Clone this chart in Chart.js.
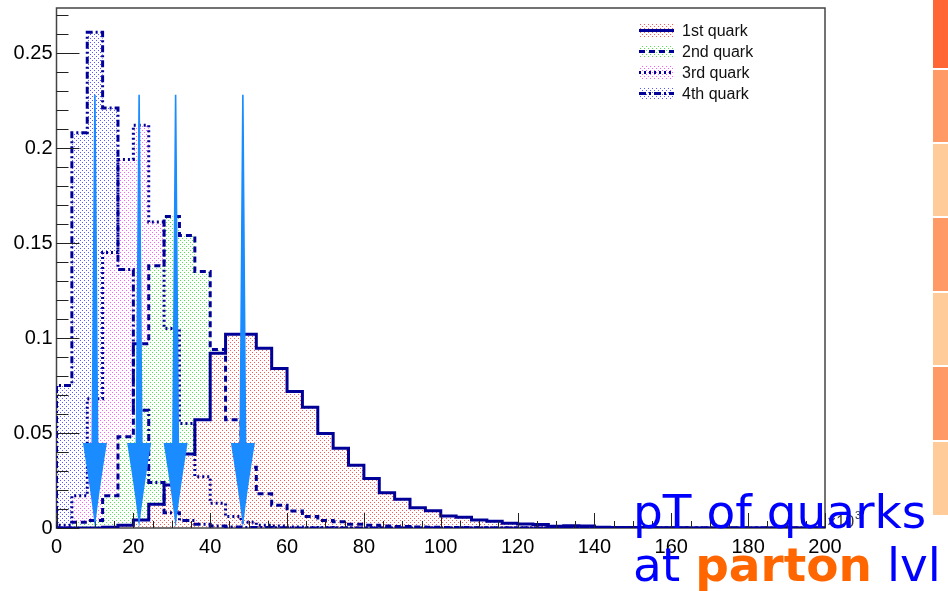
<!DOCTYPE html>
<html>
<head>
<meta charset="utf-8">
<script src="https://cdn.jsdelivr.net/npm/chart.js@4.4.1/dist/chart.umd.min.js"></script>
<style>
  html, body { margin: 0; padding: 0; background: #fff; overflow: hidden; }
  #wrap { position: relative; width: 948px; height: 591px; overflow: hidden; }
  #c { position: absolute; left: 0; top: 0; }
  .strip { position: absolute; left: 933px; width: 15px; }
  #note { position: absolute; left: 633px; top: 485px; font-family: "DejaVu Sans"; font-size: 47px;
          line-height: 53px; color: #0000ff; white-space: nowrap; }
  #note b { color: #ff6600; }
</style>
</head>
<body>
<div id="wrap">
  <canvas id="c" width="948" height="591"></canvas>
  <div class="strip" style="top:0;height:68px;background:#ff6633"></div>
  <div class="strip" style="top:70px;height:72px;background:#ff9966"></div>
  <div class="strip" style="top:144px;height:72px;background:#ffcc99"></div>
  <div class="strip" style="top:218px;height:73px;background:#ff9966"></div>
  <div class="strip" style="top:293px;height:72px;background:#ffcc99"></div>
  <div class="strip" style="top:367px;height:73px;background:#ff9966"></div>
  <div class="strip" style="top:442px;height:73px;background:#ffcc99"></div>
  <div id="note">pT of quarks<br>at <b>parton</b> lvl</div>
</div>
<script>
// histogram contents, 50 bins of width 4 (x10^3) from 0 to 200
var binWidth = 4;
var q1 = [0, 0, 0, 0.0004, 0.0015, 0.0042, 0.0125, 0.0226, 0.039, 0.057,
          0.092, 0.102, 0.102, 0.0946, 0.084, 0.0718, 0.0635, 0.0498, 0.042, 0.033,
          0.026, 0.0186, 0.0151, 0.0107, 0.0091, 0.0063, 0.0056, 0.0042, 0.0035, 0.0025,
          0.0021, 0.0018, 0.0009, 0.0012, 0.001, 0.0004, 0.0003, 0.0002, 0.0002, 0.0001,
          0.0001, 0, 0, 0, 0, 0, 0, 0, 0, 0];
var q2 = [0, 0.003, 0.004, 0.017, 0.048, 0.097, 0.138, 0.164, 0.154, 0.135,
          0.094, 0.057, 0.032, 0.018, 0.012, 0.009, 0.006, 0.004, 0.0033, 0.002,
          0.0015, 0.001, 0.0008, 0.0005, 0.0004, 0.0003, 0.0002, 0.0001, 0, 0,
          0, 0, 0, 0, 0, 0, 0, 0, 0, 0,
          0, 0, 0, 0, 0, 0, 0, 0, 0, 0];
var q3 = [0.0015, 0.017, 0.068, 0.145, 0.194, 0.212, 0.161, 0.105, 0.055, 0.027,
          0.013, 0.006, 0.003, 0.0015, 0.001, 0.0005, 0.0003, 0.0002, 0.0001, 0,
          0, 0, 0, 0, 0, 0, 0, 0, 0, 0,
          0, 0, 0, 0, 0, 0, 0, 0, 0, 0,
          0, 0, 0, 0, 0, 0, 0, 0, 0, 0];
var q4 = [0.075, 0.208, 0.261, 0.221, 0.136, 0.062, 0.024, 0.008, 0.004, 0.002,
          0.001, 0.0005, 0.0003, 0.0002, 0.0001, 0, 0, 0, 0, 0,
          0, 0, 0, 0, 0, 0, 0, 0, 0, 0,
          0, 0, 0, 0, 0, 0, 0, 0, 0, 0,
          0, 0, 0, 0, 0, 0, 0, 0, 0, 0];
var labels = ["1st quark", "2nd quark", "3rd quark", "4th quark"];
var xTicks = [0, 20, 40, 60, 80, 100, 120, 140, 160, 180, 200];
var yTicks = [0, 0.05, 0.1, 0.15, 0.2, 0.25];
var arrowX = [10, 21.5, 31, 48.5];   // arrow positions on x axis
var arrowTop = 0.228;

var navy = "#000099";
var canvas = document.getElementById("c");
var ctx = canvas.getContext("2d");

//dotted fill pattern like ROOT's
function dots(color) {
    var c = document.createElement("canvas");
    c.width = 4; c.height = 4;
    var g = c.getContext("2d");
    g.fillStyle = color;
    g.fillRect(0, 0, 1, 1);
    g.fillRect(2, 2, 1, 1);
    return ctx.createPattern(c, "repeat");
}

//bin contents -> step points
function histPoints(vals) {
    var pts = [{x: 0, y: 0}];
    for (var i = 0; i < vals.length; i++) pts.push({x: i * binWidth, y: vals[i]});
    pts.push({x: vals.length * binWidth, y: 0});
    return pts;
}

var series = [
    {vals: q1, dot: "#ff5a5a", dash: []},
    {vals: q2, dot: "#4ee84e", dash: [6, 4]},
    {vals: q3, dot: "#ff5cff", dash: [2, 3]},
    {vals: q4, dot: "#5a5aff", dash: [7, 3, 2, 3]}
];

var rootStyle = {
    id: "rootStyle",
    beforeDatasetsDraw: function(chart) {
        var g = chart.ctx, a = chart.chartArea;
        g.save();
        g.strokeStyle = "#444";
        g.lineWidth = 1.5;
        g.strokeRect(a.left, a.top, a.right - a.left, a.bottom - a.top);
        g.restore();
    },
    afterDatasetsDraw: function(chart) {
        var g = chart.ctx, a = chart.chartArea, sx = chart.scales.x, sy = chart.scales.y;
        g.save();
        //ticks inside the frame
        g.strokeStyle = "#222";
        g.lineWidth = 1;
        g.beginPath();
        for (var k = 0; k <= 40; k++) {
            var px = Math.round(sx.getPixelForValue(k * 5)) + 0.5;
            g.moveTo(px, a.bottom);
            g.lineTo(px, a.bottom - (k % 4 === 0 ? 15 : 7));
        }
        for (var j = 0; j <= 27; j++) {
            var py = Math.round(sy.getPixelForValue(j * 0.01)) + 0.5;
            g.moveTo(a.left, py);
            g.lineTo(a.left + (j % 5 === 0 ? 23 : 12), py);
        }
        g.stroke();

        //arrows
        g.fillStyle = "#1a8cff";
        arrowX.forEach(function(v) {
            var x = sx.getPixelForValue(v);
            var top = sy.getPixelForValue(arrowTop);
            var tip = sy.getPixelForValue(0);
            var headTop = tip - 85;
            g.beginPath();
            g.moveTo(x - 0.8, top);
            g.lineTo(x + 0.8, top);
            g.lineTo(x + 3.5, headTop);
            g.lineTo(x + 12, headTop);
            g.quadraticCurveTo(x + 4, tip - 35, x, tip);
            g.quadraticCurveTo(x - 4, tip - 35, x - 12, headTop);
            g.lineTo(x - 3.5, headTop);
            g.closePath();
            g.fill();
        });

        //exponent
        g.fillStyle = "#333";
        g.textBaseline = "alphabetic";
        g.font = "16px 'Liberation Sans'";
        g.fillText("\u00d710", a.right + 2, a.bottom - 1);
        g.font = "11px 'Liberation Sans'";
        g.fillText("3", a.right + 30, a.bottom - 9);

        //legend
        chart.data.datasets.forEach(function(ds, i) {
            var y = 30.5 + i * 21;
            g.fillStyle = ds.backgroundColor;
            g.fillRect(639, y - 6.5, 35, 13);
            g.setLineDash(ds.borderDash);
            g.strokeStyle = navy;
            g.lineWidth = 3;
            g.beginPath();
            g.moveTo(639, y);
            g.lineTo(674, y);
            g.stroke();
            g.setLineDash([]);
            g.fillStyle = "#111";
            g.font = "16px 'Liberation Sans'";
            g.textBaseline = "middle";
            g.fillText(ds.label, 682, y + 1);
        });
        g.restore();
    }
};

var chart1 = new Chart(ctx, {
    type: "line",
    data: {
        datasets: series.map(function(s, i) {
            return {
                label: labels[i],
                data: histPoints(s.vals),
                stepped: true,
                fill: "origin",
                backgroundColor: dots(s.dot),
                borderColor: navy,
                borderWidth: 3,
                borderDash: s.dash,
                pointRadius: 0,
                tension: 0
            };
        })
    },
    options: {
        responsive: false,
        animation: false,
        events: [],
        layout: {padding: {left: 0, top: 8, right: 123, bottom: 0}},
        plugins: {
            legend: {display: false},
            tooltip: {enabled: false},
            filler: {drawTime: "beforeDatasetsDraw"}   // all fills first, outlines on top
        },
        scales: {
            x: {
                type: "linear", min: 0, max: 200,
                grid: {display: false, drawTicks: false},
                border: {display: false},
                afterFit: function(s) { s.height = 63; s.paddingLeft = 0; s.paddingRight = 0; },
                afterBuildTicks: function(s) { s.ticks = xTicks.map(function(v) { return {value: v}; }); },
                ticks: {font: {family: "Liberation Sans", size: 20}, color: "#000", padding: 7,
                        maxRotation: 0, autoSkip: false}
            },
            y: {
                type: "linear", min: 0, max: 0.2737,
                grid: {display: false, drawTicks: false},
                border: {display: false},
                afterFit: function(s) { s.width = 56.5; s.paddingTop = 0; s.paddingBottom = 0; },
                afterBuildTicks: function(s) { s.ticks = yTicks.map(function(v) { return {value: v}; }); },
                ticks: {font: {family: "Liberation Sans", size: 20}, color: "#000", padding: 4,
                        callback: function(v) { return String(Math.round(v * 100) / 100); }}
            }
        }
    },
    plugins: [rootStyle]
});
</script>
</body>
</html>
